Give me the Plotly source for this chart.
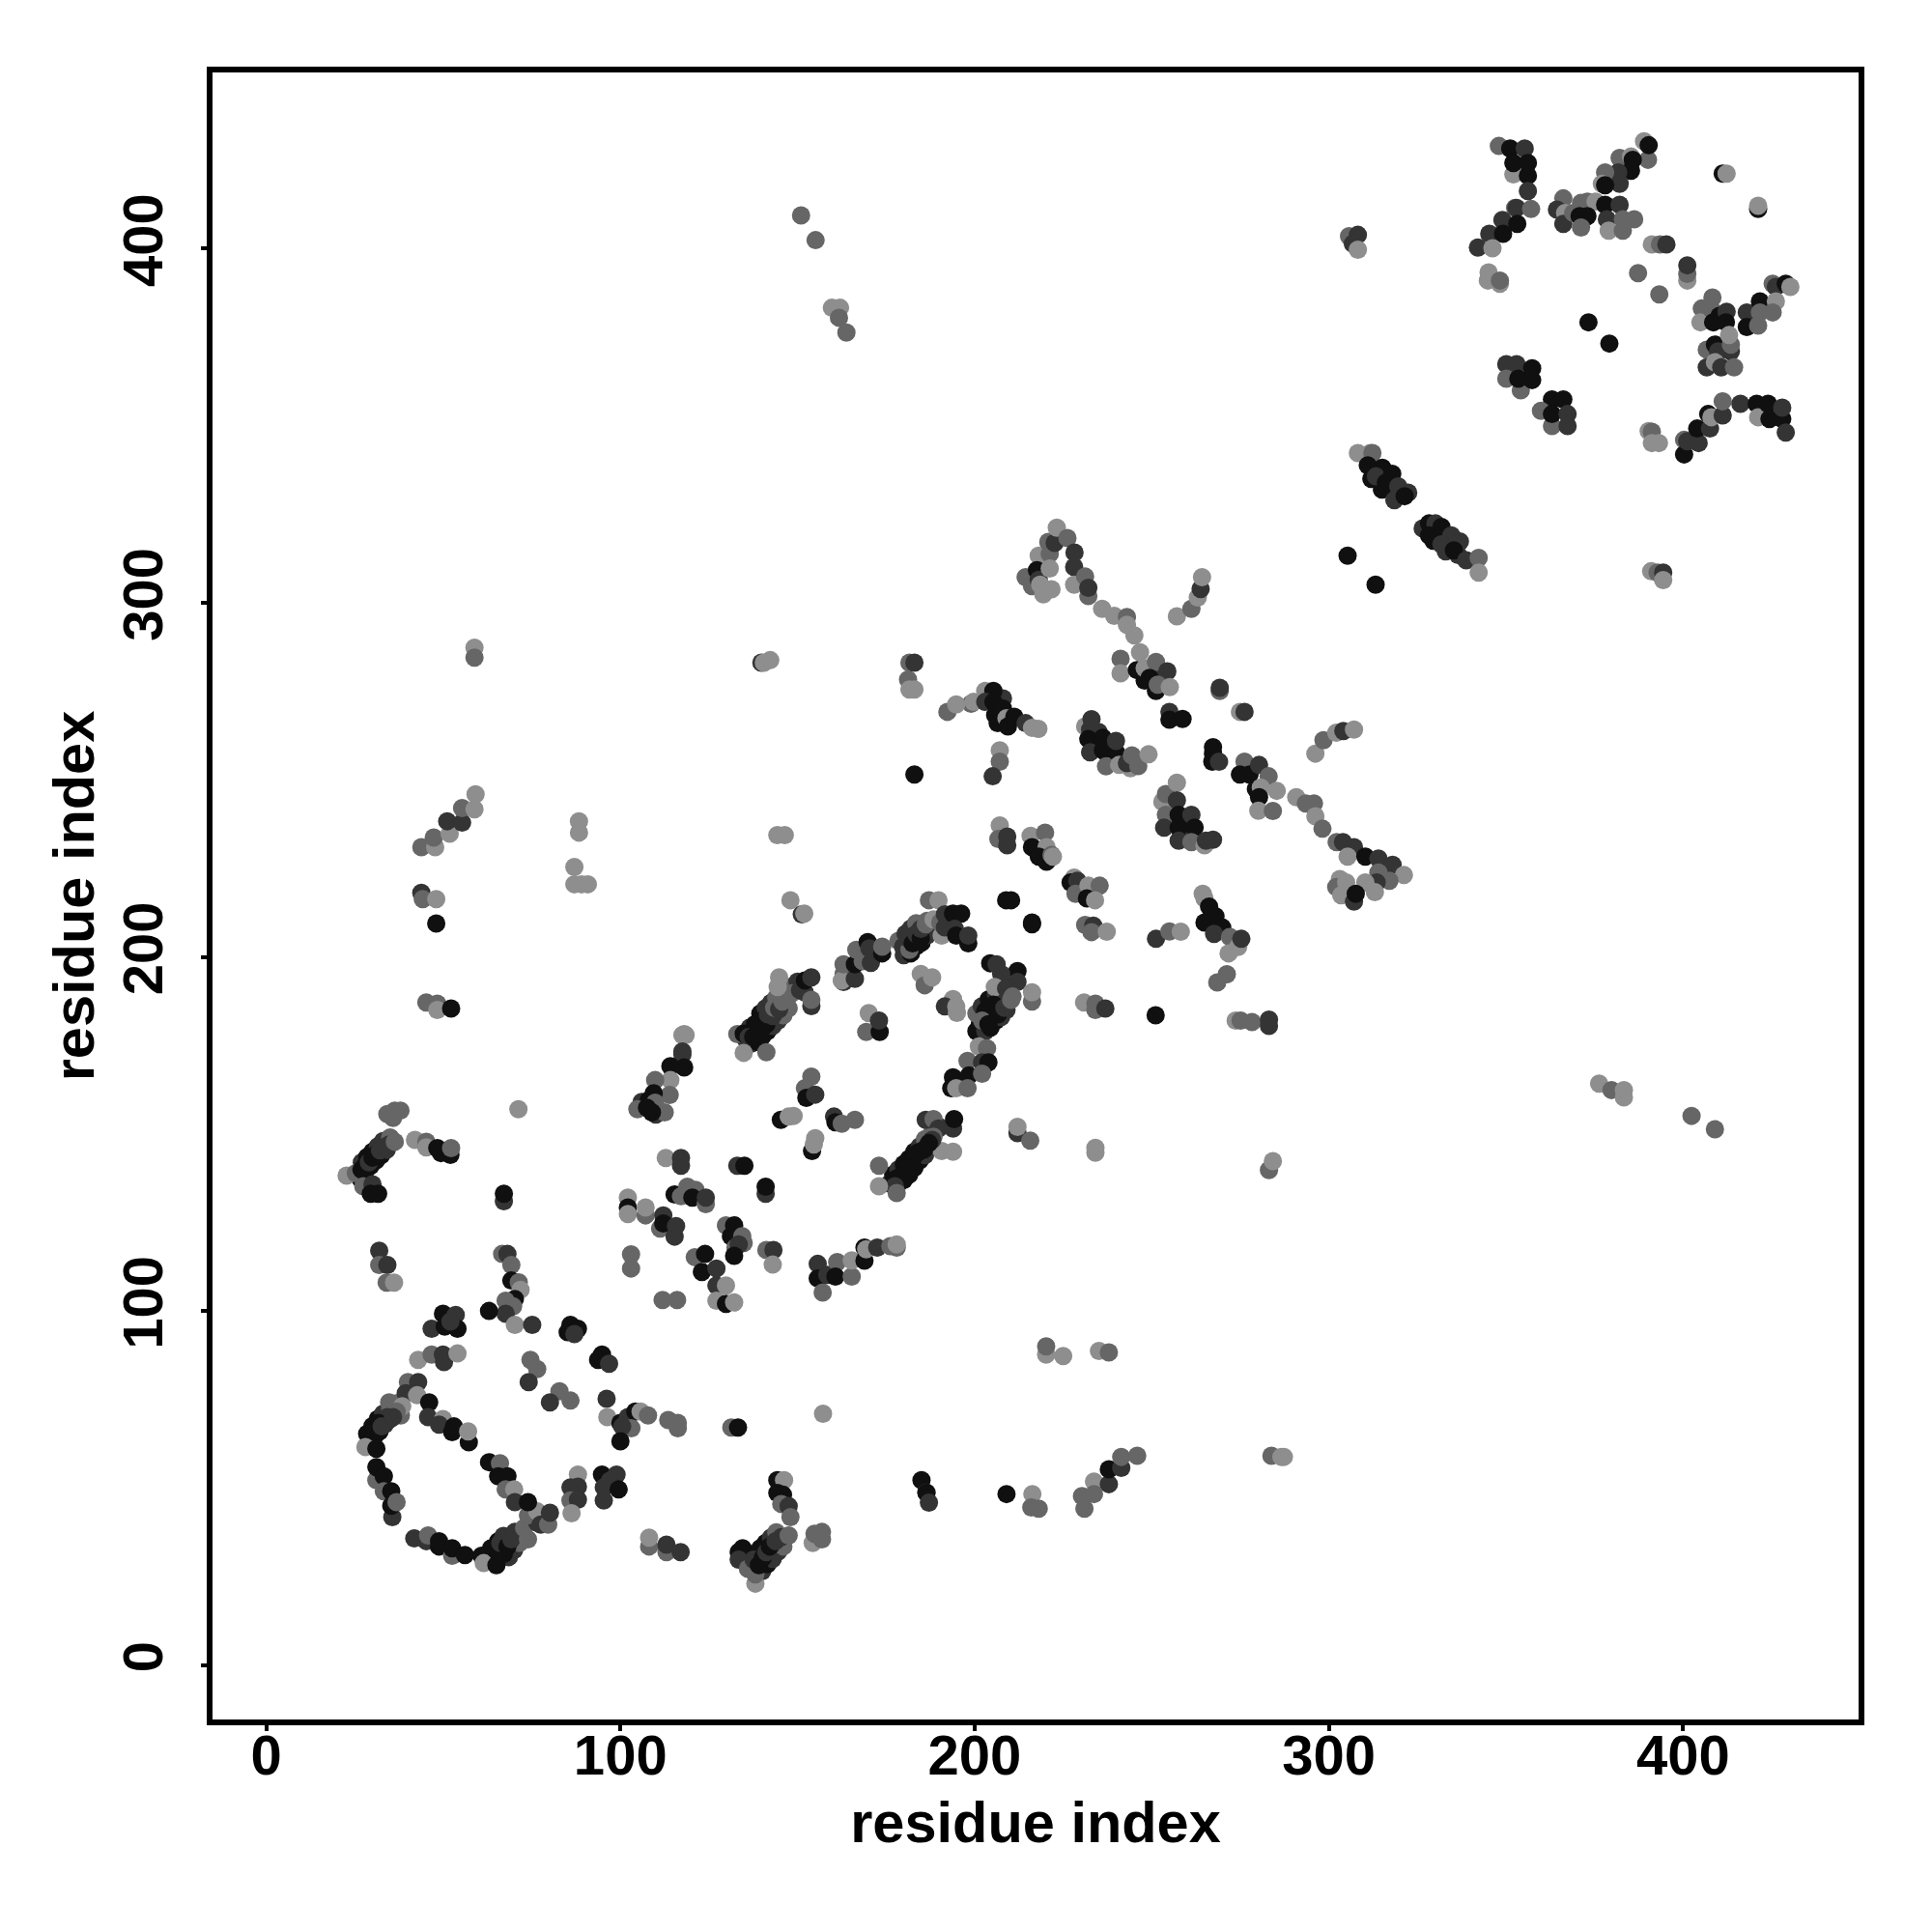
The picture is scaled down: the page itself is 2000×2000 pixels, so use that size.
import plotly.graph_objects as go

# Each contact: (residue x, residue y, shade level 1=black ... 4=pale)
dense_bands = [
(26.5,137.5,1),(28,139.5,1),(29.5,141,1),(31,142.5,1),(32.5,144,1),(34,145.5,2),(27,142,2),(28.5,143.5,1),(30,145,1),(31.5,146.5,2),(33,148,2),(35,149,3),
(29,63,1),(30.5,64.5,1),(32,66,1),(33.5,68,2),(35,69.5,2),(30,67.5,1),(31.5,69.5,1),(33,71,2),(35,72.5,3),(37,74,3),(38,70.5,3),
(62,31,1),(63.5,30,1),(63.5,33,1),(65.5,35,1),(67,36.5,2),(68.5,30.5,2),(70,32.5,2),(71.5,34.5,3),
(134.5,33,1),(136,31.5,1),(136.5,28,2),(138,31,1),(139.5,33,1),(141,34.5,1),(142.5,36,2),(144,37.5,3),(140,26.5,2),(141.5,28.5,1),(143,30,2),(144.5,32,2),(146,33.5,3),
(135.5,176.5,2),(137,175.5,2),(138.5,176,1),(140,177.5,1),(141.5,179,1),(143,180.5,2),(144.5,182,2),(146,183.5,3),(147.5,185.5,3),(136.5,180,2),(138,181,1),(139.5,184,1),(141,185.5,2),(142.5,187,2),(144,188.5,3),(146,190,3),(148,191.5,3),(150,193,2),(152,190,2),
(176,136,2),(177,138.5,1),(178.5,136,1),(180,137,1),(181.5,138.5,1),(183,140.5,1),(184.5,142.5,1),(186,144,2),(187.5,146,2),(178.5,140,2),(180,141.5,1),(181.5,143,1),(183,145,1),(184.5,146.5,2),(186,148.5,3),(188,150.5,3),(190,152,2),
(200.5,179,1),(201.5,181,1),(203,179,2),(204.5,180,1),(206,182,1),(207.5,183,2),(209,185,2),(200.5,184,3),(202,186,2),(204,188,1),(206,189.5,2),(208,190.5,2),(210,192,2),
(180,200.5,2),(182,201,1),(183.5,203,1),(185,204,1),(186.5,206,2),(188,207.5,2),(178.5,204.5,3),(180.5,206.5,2),(182,208,2),(183.5,209.5,3),
(106,159,2),(108,159.5,1),(110,155.5,2),(248,278,1),(250,280,1),(252,278.5,2),(234,260,1),(235,263.5,2),(238,259,1),(259,238,1),(259,234,2),(207,269,1),(208,273,2),(206.5,266,1),
(312,335,1),(314,336.5,1),(315,332,1),(317.5,334,1),(320,330.5,1),(318.5,329,2),(326.5,321,2),(329.5,317.5,1),(333,318,1),(333,314.5,2),(336.5,313.5,2),
]
lower_left_top = [
(34.2,155.6,3),(36.3,156.6,3),(37.9,156.6,3),(35.8,154.5,3),(22.7,138.2,4),(25.3,138.9,3),(26.9,139.9,1),(27.9,141,1),(29,142,2),(30,143.3,1),(31.1,144.3,1),(32.1,145.4,2),(33.7,146.4,2),(34.7,147,2),(36.3,147.8,3),
(27.4,135.2,3),(30,135.8,2),(29.5,133.1,1),(31.6,133.1,1),(42,148.3,4),(45.2,147.8,3),(45.2,146.2,4),(48.3,146,1),(49.3,144.6,1),(52,144.1,1),(52.2,146,3),(71.2,157,4),(67.1,131,2),(67.1,133.1,1),
(31.9,117,2),(31.9,113,3),(34.2,113,2),(34,108,3),(36.1,108,4),(66.6,116.1,3),(68.1,116.1,2),(69.2,113,3),(69.2,108.6,1),(71.3,108.1,3),(71.8,106,4),(70.2,103.4,1),(67.6,102.9,3),(69.7,101.3,3),(67.6,99.2,2),(70.2,96.1,4),(62.9,100,1),(75.1,96.1,2),
(49.9,99.2,1),(53.5,98.9,2),(46.7,95,2),(50.4,95.6,1),(54,95,1),(52,97,2),(42.9,86.2,4),(46.7,87.7,3),(49.9,87.7,2),(50.2,85.6,2),(54,88,4),(85.9,96.1,1),(88,95,1),(85.1,94,1),(87,93.5,2),
(94.8,87.7,1),(93.7,86.2,1),(96.8,85.1,2),(74.6,86.2,3),(76.5,83.6,3),(74.1,79.9,2),(82.8,77.3,3),(85.9,74.7,3),(80.1,74.2,2),(96.1,75.2,2),(96.3,70,4),(100,68.4,1),(102.1,70,2),(104.2,71.6,1),(105.7,71.6,4),(107.8,70.5,3),(103.1,66.9,3),(100.5,67.4,2),(100,63.2,1),
(113.5,69.2,3),(116.2,68.4,3),(116.2,66.9,3),(131.3,67.1,3),(133.2,67.1,1),(157.2,71,4),
]
lower_left_ring = [
(40,79.9,3),(42.9,79.9,2),(39.4,76.8,2),(42.6,76.2,4),(34.7,74.2,3),(38.4,73.1,4),(36.8,71.6,3),(34.2,70,2),(31.6,68.4,1),(28.5,65.3,1),(30,65.8,1),(32.6,67.4,2),(35.8,70,2),(28,61.6,4),(31.1,61.1,1),
(46,74.2,1),(45.7,70,2),(49.9,69.5,4),(48.8,67.9,2),(52.5,65.8,1),(53,67.4,1),(57.2,62.9,1),(57,66,4),
(31.1,52.2,3),(31.1,55.9,1),(33.2,53.3,1),(33.2,49.1,3),(35.3,49.1,1),(35.6,41.8,2),(35.3,45,1),(36.8,46,3),
(41.8,35.8,2),(45.2,35,2),(45.7,36.6,3),(48.8,33.5,1),(48.8,35,1),(52.5,30.9,3),(52.5,33,1),(56.1,31.1,1),
(60.8,30.9,1),(61.4,28.8,4),(65,28.2,1),(65,32.4,1),(67.1,31.4,1),(66.1,34.5,2),(68.1,33.5,1),(69.2,35.5,2),(70.2,37.6,2),(73.9,35.5,3),(72.8,38.7,3),(76.5,40.2,2),(73.9,42.3,3),(76.5,43.4,4),(77.5,39.7,2),(79.6,39.7,3),(80.1,43,2),
(62.9,57.3,1),(66,57,3),(65.5,53.3,1),(68.1,53.3,1),(67.6,49.6,3),(70,49.6,4),(70.2,46,2),(73.9,46,1),(88,53.8,4),(85.9,50.2,2),(88,50.4,2),(85.9,46.5,3),(88,46.7,2),(86.2,42.9,4),
(94.8,53.8,1),(98.9,53.8,2),(95.3,50.2,2),(97,52,2),(99.5,49.6,1),(95.3,46.5,2),(108.1,33.5,3),(108.1,36,4),(113,31.9,3),(113,34,2),(117,31.9,2),
]
lower_center_bottom = [
(133.4,31.9,1),(133.4,29.8,2),(136,27.2,3),(138.1,23,4),(138.1,25.6,3),(137.6,29.8,2),(139.1,28.2,1),(140.2,30.3,1),(141.2,31.9,2),(142.2,33.5,1),(143.8,35,2),(145.4,36.1,2),(147.5,36.6,3),
(144.3,52.2,1),(146.2,52.2,4),(144.3,48.6,1),(145.9,48.1,1),(145.4,45.5,3),(147.5,44.9,2),(148,41.8,3),(154.3,34.5,4),(154.8,37.1,3),(156.9,37.6,3),(156.9,35.5,3),
(185,52.2,1),(186.4,48.7,3),(186.4,48.7,1),(187.1,45.9,2),(209,48.3,1),(216.3,48.3,4),(216,44.5,3),(218.1,44.2,3),
(230.3,47.7,3),(231,44.2,3),(233.7,51.8,4),(233.7,48.3,3),(237.9,51.1,2),(237.9,55.3,1),(241.4,55.7,2),(241.4,58.8,3),(245.9,59.1,3),
(283.8,59.1,3),(286.6,58.8,4),(287.3,58.8,4),(220.2,87.7,4),(220.2,90,3),(225,87.3,4),(235.1,88.7,4),(237.9,88.3,3),
]
helix_left = [
(118,178.2,4),(117.5,177.9,4),(118.4,177.9,4),(117.5,172.4,2),(117.5,173.3,2),(118,168.8,1),(114.1,169.1,1),(114.1,165.2,4),(109.8,165.2,3),(113.9,161,3),(109.4,161.5,1),(109.8,158.8,3),(112.5,156.1,3),(104.8,157,3),(108.9,156.1,1),(107.5,157.4,1),
(112.8,143.2,4),(117.1,141,2),(117.1,143.2,2),(133,141,2),(135,141,1),(141,133.1,2),(141,135.1,1),(102.1,132,4),(102.1,129.2,1),(102.1,127.4,4),(107.1,127,3),(107.1,129.2,4),(112.1,127,2),(111.2,123.3,3),(112.1,124.7,1),(115.3,121,2),(115.7,124,2),
(115.3,132.9,1),(117.1,132.4,3),(118.9,135.1,3),(121.2,134.2,3),(120.3,132,1),(124.1,130.2,3),(124.1,132,2),(129.8,124.2,3),(132.1,124.2,1),(131.2,121.1,1),(134.4,121.1,3),(134.8,119.2,3),(132.5,117.9,3),(133.4,118.8,2),(132.1,115.6,1),
(141.2,117.2,3),(143.2,117.2,2),(143,113.1,4),(103,116,3),(103,112,3),(121,115.2,3),(123,111,1),(123.9,116.1,1),(127.1,112,2),(127.1,107.2,2),(129.8,107.2,4),(127.1,102.9,4),(129.8,102,1),(132.1,102.4,4),(111.9,103.1,3),(116,103.1,3),
]
helix_mid = [
(133,178.2,3),(134.8,178.3,1),(136.2,177.4,2),(137.5,177.4,1),(138.9,179.2,1),(140.3,180.2,1),(139.8,182,1),(141.2,181,1),(141.6,183.8,2),(143,183.3,2),(143.4,185.6,3),(144.8,185.2,2),(145.7,187.4,3),(147.1,188.3,3),(148.4,189.7,3),(144.4,191.5,4),(144.8,194.2,4),(150.7,190.6,2),(152.1,193.3,1),(153.9,186.1,2),(153.9,187.9,3),(153.9,194.2,2),(134.8,172.9,4),(141.2,173.1,3),
(153.9,166.2,3),(152.1,162.9,3),(152.5,160.2,1),(155,161.1,2),(145.3,154,1),(147.5,154.9,4),(148.9,155.1,4),(160.3,154.9,2),(160.7,153.3,1),(162.5,152.9,3),(166.2,154,3),(154.1,145.2,1),(154.6,147,4),(155,148.8,4),
(169.4,178.8,3),(170.1,184.1,4),(173.2,178.8,1),(173,182,2),(163,192.9,2),(163,195.1,3),(162.5,193.3,4),(166.2,193.8,2),(163,197.9,3),(166.2,197.9,1),(168.4,198.8,3),(170.7,198.3,2),(166.6,202,3),(169.8,204.2,1),(170.3,202.4,2),(173.9,201,1),(173.9,202.9,3),
(179.8,202.9,2),(181.6,202,3),(181.2,205.2,2),(182.5,203.8,1),(183.5,206.5,2),(184.8,205.2,1),(184.8,207.9,2),(186.2,209.2,3),(186.6,210.2,3),(187.1,216,3),(188.4,210.6,4),(189.8,216,4),(190.7,206,4),(190.3,209.7,3),(191.6,208.3,2),(191.6,212,2),(193.9,212.2,1),(196.2,212.2,1),(194.4,207.9,2),(194.8,206,1),(198.2,203.8,1),(198.2,206,2),
(148,216,4),(151.2,212,2),(151.9,212.2,4),(208.9,216,1),(210.3,216,1),(216.2,209.2,1),(216.2,209.7,1),
(184.8,195.2,4),(185.9,192,3),(188,194.2,4),(193.9,188.1,4),(191.6,186,2),(195,184.2,4),(194.8,186,4),
]
helix_right = [
(204.4,198.2,1),(206.2,197.9,2),(212.1,196,1),(207.5,195.2,2),(205.7,191.5,4),(212.1,192.9,2),(208.9,191.1,2),(210.7,188.8,3),(203,184.7,1),(202.1,182,3),(203.9,181,1),(205.3,186.5,1),(206.6,183.8,1),(208.4,185.6,2),(210.3,187.9,3),(216.2,187.4,3),(216.2,190,4),
(201.2,174.7,4),(203.5,174.2,3),(198,170.6,3),(198.4,166.5,1),(202.1,170.2,2),(203.9,170.2,1),(202.1,167,3),(193.9,166,1),(193.4,162.9,1),(194.8,162.9,4),(198,162.9,3),
(186.2,154,2),(188.4,154.2,3),(189.8,151.5,2),(193.9,151.5,2),(194.2,154.2,1),(188.4,149.2,3),(190.7,145.2,4),(193.9,145,4),(188,148.3,2),(187.1,147.4,1),(185.7,145.6,1),(183.9,144.7,1),(182.5,142.9,1),(181.2,140.2,1),(179.4,138.3,1),(178,137.4,1),(177.5,135.2,2),(178,133.3,3),(173,141,3),(173,135.2,4),
(212.1,150.2,2),(212.1,152,4),(215.7,148.1,3),(155.7,113.3,2),(155.7,109.2,1),(157.1,105.2,3),(158.4,110.2,2),(161.2,113.8,3),(160.7,109.7,1),(165.3,109.7,3),(165.3,114.3,4),(168.9,114.2,1),(168.9,117.9,1),(169.4,117.4,4),(172.5,117.9,2),(176.2,118.3,3),(178,117.9,3),(178,118.8,4),
(230.9,187.1,4),(234.1,186.8,3),(234.1,185,3),(236.9,185.4,2),(251.1,183.5,1),(273.7,182,4),(275.1,182,3),(278.3,181.6,3),(283.1,182.3,2),(283.1,180.5,2),(234.1,144.7,4),(234.1,146.1,4),(283.1,139.8,3),(284.2,142.3,4),
]
center_top = [
(214.4,307.2,3),(216.2,304.7,3),(218.1,313.3,4),(217.6,309.2,1),(218.1,306.5,2),(220.8,317.2,3),(221.2,313.8,3),(221.2,309.7,4),(218.5,305.1,4),(219.4,302.4,4),(221.7,303.8,4),(222.6,316.9,2),(223.2,321.2,4),(226.2,318.3,3),(228.1,310.1,2),(228.2,314.2,2),(228.1,305.1,4),(231.2,307.4,3),(232.1,301.9,3),(232.1,304.2,2),
(236,298.3,4),(239.4,296.3,4),(243,296,3),(243,293.8,4),(245.1,290.8,4),(246.7,286,4),(241.2,284.2,3),(241.2,280.1,4),(245.8,281,1),(248,281.5,4),(251.2,283.3,3),(254.4,280.6,2),(249.4,278.8,1),(251.2,275.1,1),(251.7,276.9,3),(255.1,276.2,4),
(257.1,296.2,4),(261.2,298.3,3),(263,301.5,4),(263.8,303.9,2),(264.2,307.2,4),(255,269.2,2),(255,267,1),(258.7,267.2,1),(269.2,275.1,3),(269.2,276,2),(274.9,269.2,4),(276.2,269.2,2),(305.3,313.3,1),(313.2,305.1,1),
(199,271.5,3),(192.3,269.2,3),(194.8,271.3,4),(199.7,272,4),(203,275.1,4),(205.3,275.1,1),(203,272,2),(205.3,272,1),(205.8,268.3,1),(208,270.1,1),(209,267.4,4),(209.4,265.1,1),(211.2,267.8,1),(214.4,266,2),(216.2,264.7,4),(218,264.4,4),
(207.1,258.3,4),(207.1,255.1,3),(205.1,251,2),(183,251.5,1),
(181.2,278.3,3),(181.6,275.5,4),(183,275.5,4),(181.6,283.1,3),(183,283.1,2),(139.8,283.1,2),(140.5,283.1,4),(142.3,283.8,4),
(58.8,287.3,4),(58.8,284.5,3),
]
center_mid = [
(231.2,265.1,4),(233,267.1,2),(232.6,264.2,2),(232.1,261.5,1),(232.6,257.8,2),(236.2,261.9,1),(236.2,258.3,1),(239.9,257.8,1),(239.9,261,2),(237.1,253.8,3),(240.8,254.2,4),(244,253.3,4),(243,254.7,2),(244.4,256.9,3),(246.2,253.9,3),(249.1,257.2,4),
(253,243.8,4),(254,246,3),(257.1,249.2,4),(257.1,244.2,2),(254,240.1,3),(253.5,236.5,2),(257.6,240.1,1),(261.2,240.1,2),(257.6,236.5,1),(262.1,236.5,1),(257.6,232.8,2),(261.2,232.4,3),(264.9,231.5,4),(265.3,232.8,2),(267.3,233.1,2),
(267.3,259.2,1),(267.3,257.4,1),(267.1,255.1,1),(269,255.1,2),(276.2,255.1,3),(274.9,251.5,1),(277.6,251.5,1),(280.3,254.2,2),(283,251,3),(279.4,247.4,1),(280.8,247.8,4),(280.3,245.1,1),(285.3,246.9,4),(290.8,245.1,4),(293.5,243.3,3),(295.8,243.3,3),(296.2,239.7,4),(298.2,236.2,3),(280.1,241.3,4),(284.2,241.2,3),
(296.2,257.4,4),(298.5,261.2,3),(302.1,263.3,4),(304.1,263.8,2),(307.1,264.2,4),
(302.2,232.4,3),(304,232.4,2),(307.1,231,2),(305.3,228.3,4),(310.3,228.3,1),(314,227.8,2),(318,226,2),(321.2,223.1,4),(317.1,221.5,3),(314,223.8,3),(313.5,221,2),(310.3,221,4),(313,218.3,4),(303.1,222,4),(302.1,219.7,3),(304.9,221,4),(303.5,217.4,4),(307.1,215.6,2),(307.6,217.8,1),
(207.1,237.1,4),(206.7,233.3,3),(209.2,231.5,2),(209.2,234,2),(215.8,234.2,4),(219.9,235.1,3),(216.2,231,1),(220.3,231,4),(218.1,228.3,1),(220.3,226.9,1),(221.7,228.8,3),(222.1,228.3,4),
(228.1,222.4,4),(227.1,221,1),(229,221.5,2),(228.5,217.8,3),(232.1,220.1,4),(231.7,216.5,1),(235.3,220.1,3),(234,216,4),(231.2,209,3),(233.5,208.8,2),(233,207,3),(237.3,207.1,4),(251.2,205.1,2),(255,207.2,3),(258.2,207.1,4),
(264.4,217.8,4),(264.9,216.5,4),(266.2,214.2,1),(268,211.5,1),(264.9,209.7,1),(269.9,208.3,1),(267.6,206.5,2),(272.1,205.6,3),(274.4,202.8,4),(275.3,205.1,2),(271.7,201,4),(271.2,195.1,3),(268.5,192.8,3),
]
upper_left = [
(43.8,218.1,2),(44.2,216.3,3),(48,216.3,4),(48,209.4,1),(43.8,231,3),(47.7,231,4),(47.3,233.7,3),(51.8,234.8,4),(51.1,238.3,2),(55.3,237.9,2),(55.3,242,3),(58.8,241.7,4),(59.1,245.9,4),
(45.2,187.1,3),(48.3,186.8,3),(48.3,185,4),(52.2,185.4,1),(88.3,238.3,4),(88.3,235.1,4),(87,225.4,4),(87,220.5,4),(89,220.5,4),(90.8,220.5,4),(144.3,234.4,4),(146.4,234.4,4),
(151,409.4,3),(155.1,402.4,3),(159.7,383.3,4),(162,383.3,4),(161.7,380.5,3),(163.8,376.3,3),
(305.7,403.5,3),(308.2,403.9,2),(306.8,401.4,2),(308.2,399.7,4),
]
upper_diagonal = [
(308.2,342.3,4),(311.7,342.3,4),(312.3,342.3,3),(311,338.8,1),(315.1,338.1,1),(313.3,335.7,2),(317.9,336.4,1),(316.1,333.9,1),(319.6,332.9,2),(322.4,331.1,2),(321.4,330.1,1),
(328.3,322.4,1),(330.1,322.4,2),(331.8,321.4,1),(328.3,319,1),(334.6,319,2),(337,317.3,2),(331.8,316.5,2),(335.3,314.8,1),(338.8,312,2),(342.3,312.7,3),(342.3,308.5,4),
(391,308.9,4),(392.8,308.5,3),(394.4,308.5,2),(394.4,306.4,4),(376.3,164.2,4),(379.8,162.4,3),(383.3,162.4,4),(383.3,160.3,4),(402.4,155.1,3),(409,151.3,3),
]
upper_right_a = [
(348,429,3),(351.2,428.3,1),(355.3,428.3,2),(352.1,421,4),(352.1,424.2,1),(356.2,424.2,1),(356.2,420.6,1),(356.2,416.3,2),(352.6,411.5,3),(353,411.5,2),(357.1,411.2,3),(349,408.1,2),(353.2,407,1),(345.3,404.2,2),(349.2,404.2,1),(342.1,400.3,2),(346.2,400.1,4),(345.1,393.3,4),(344.9,391,4),(348.3,390.1,4),(348.3,391,3),
(366.2,414.2,3),(364.4,411,2),(366.7,410.1,4),(366.2,407,2),(369,410.1,3),(371.2,412.9,3),(373,413.3,3),(375.3,413.3,4),(370.8,409.2,1),(373,409.2,1),(371.2,406,3),(378,412.4,1),(382.1,412.4,2),(378.5,408.3,2),(383,408.3,3),(386.2,408.3,3),(379,405.1,4),(383,405.1,3),
(389,430.3,4),(390.1,425.1,3),(390.3,429.2,1),(382.1,425.6,3),(385.3,426,4),(385.8,425.1,1),(385.3,422,1),(381.7,421.5,2),(382.1,418.3,2),(378,421.5,3),(377.1,418.3,4),(378,417.9,1),
(391.2,401.2,4),(393.5,401.2,3),(395.3,401.2,2),(387.3,393.1,3),(393.3,387.1,3),(401.2,391,4),(401.2,392.9,3),(401.2,395.3,2),(411.2,421.2,1),(412.3,421.2,4),(421.2,411.2,1),(421.2,412.1,4),(373.3,379.2,1),(379.2,373.2,1),
]
upper_right_b = [
(408.3,386.2,3),(405.3,383.1,3),(404.9,379.2,4),(408,382.9,3),(408.5,379.2,1),(410.3,381,1),(412.3,382.2,2),(412.1,379.2,1),(425.3,390.1,3),(426.2,389.2,2),(429,390.1,1),(430.3,389.2,4),(418,382,2),(421.7,385.1,1),(421.7,382,3),(426.2,385.1,4),(425.3,382,3),(418,377.9,1),(421.2,378.3,3),
(406.7,371.5,3),(409,372.9,1),(409.9,371,2),(413.5,371,2),(413.5,372.9,3),(413,375.6,4),(406.7,366.5,2),(409,367.9,4),(410.8,366.5,2),(414.4,366.5,3),
(350.1,367.4,2),(353,367.4,2),(357.4,366.2,1),(350.1,363.3,3),(354.2,360,3),(353.5,363.3,1),(357.4,362.9,1),(363,357.4,1),(366.2,357.4,1),(359.9,354.2,3),(363,349.9,3),(367.4,349.9,2),(363,353.3,1),(367.4,353.3,2),
(390.3,348.5,4),(391.2,348.3,3),(391.2,345.1,4),(393.2,345.1,4),(400.3,346,3),(400.3,341.9,1),(401.2,345.6,2),(404.4,345.1,2),(404,349.2,1),(407.6,349.2,2),(407.1,353.3,1),(408,352.4,4),(411.2,352.9,2),(411.2,356.9,3),(416.2,356.2,2),(420.8,356.2,1),(421.2,352.4,4),(424,356.2,1),(424.4,351.9,1),(428,351.9,1),(428,355.1,2),(429,348.1,2),
]
x_ticks = [0, 100, 200, 300, 400]
y_ticks = [0, 100, 200, 300, 400]
axis_title = "residue index"

regions = [dense_bands, lower_left_top, lower_left_ring, lower_center_bottom, helix_left, helix_mid, helix_right,
           center_top, center_mid, upper_left, upper_diagonal, upper_right_a, upper_right_b]
pts = [p for r in regions for p in r]

fig = go.Figure(go.Scatter(
    x=[p[0] for p in pts], y=[p[1] for p in pts], mode="markers",
    marker=dict(size=19, color=[p[2] for p in pts], cmin=1, cmax=4, line_width=0, showscale=False,
                colorscale=[[0, "#101010"], [1/3, "#343434"], [2/3, "#666666"], [1, "#8e8e8e"]]),
    hoverinfo="skip"))

title_font = dict(family="Liberation Sans", size=59.5, color="black")
tick_font = dict(family="Liberation Sans", size=58, color="black")
axis = dict(showgrid=False, zeroline=False, showline=True, mirror=True, linecolor="black", linewidth=6,
            ticks="outside", ticklen=6, tickwidth=4, tickcolor="black", tickfont=tick_font,
            tickvals=x_ticks, ticktext=[f"<b>{v}</b>" for v in x_ticks])
fig.update_layout(
    width=2000, height=2000, paper_bgcolor="white", plot_bgcolor="white", showlegend=False,
    margin=dict(l=212, r=84, t=67, b=228, autoexpand=False),
    xaxis=dict(axis, range=[-15.16, 449.56], ticklabelstandoff=-25,
               title=dict(text=f"<b>{axis_title}</b>", font=title_font, standoff=20)),
    yaxis=dict(axis, range=[-15.36, 449.76], tickangle=-90, ticklabelstandoff=17,
               title=dict(text=f"<b>{axis_title}</b>", font=title_font, standoff=0)),
)
fig.write_html("out.html")
